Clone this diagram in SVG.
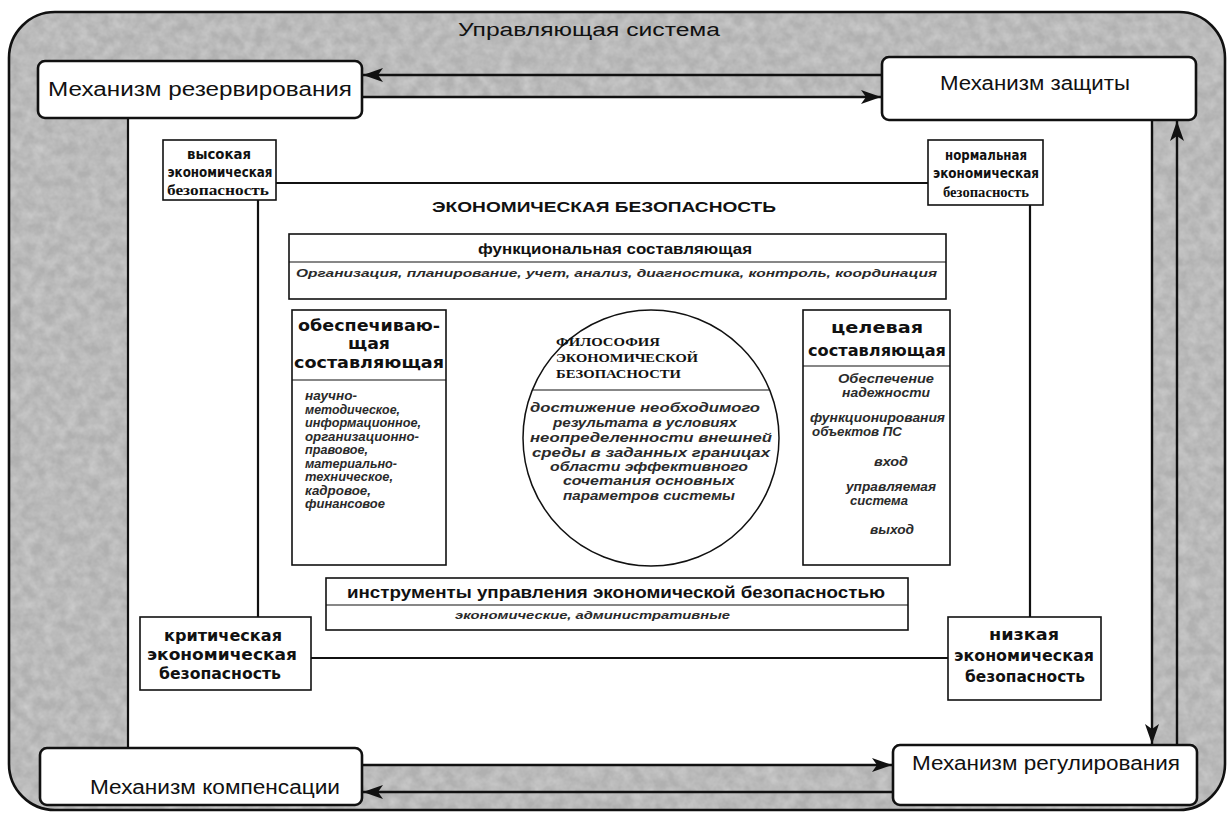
<svg xmlns="http://www.w3.org/2000/svg" width="1231" height="817" viewBox="0 0 1231 817">
<style>
.mech{fill:#fff;stroke:#111;stroke-width:2.6}
.box{fill:#fff;stroke:#111;stroke-width:1.6}
.ln{stroke:#111;stroke-width:2.2;fill:none}
.arr{stroke:#111;stroke-width:2.4;fill:none;marker-end:url(#ah)}
.div{stroke:#111;stroke-width:1.2}
text{font-family:"Liberation Sans",Arial,sans-serif;fill:#111}
.m{font-size:20px}
.b{font-weight:bold}
.v{font-family:"DejaVu Sans",Verdana,sans-serif;font-weight:bold}
.sf{font-family:"Liberation Serif","Times New Roman",serif;font-weight:bold}
.it{font-style:italic;font-weight:bold;fill:#2a2a2a}
</style>
<defs>
<marker id="ah" markerUnits="userSpaceOnUse" markerWidth="22" markerHeight="14" refX="20" refY="7" orient="auto">
<path d="M0,0 L20,7 L0,14 L5,7 z" fill="#111"/>
</marker>
<filter id="tex" x="0" y="0" width="100%" height="100%">
<feTurbulence type="fractalNoise" baseFrequency="0.09" numOctaves="3" seed="7"/>
<feColorMatrix type="matrix" values="0 0 0 0 1  0 0 0 0 1  0 0 0 0 1  0.5 0 0 0 -0.12"/>
<feComposite in2="SourceAlpha" operator="in"/>
</filter>
</defs>

<g id="background">
<rect x="9" y="12" width="1216" height="798" rx="46" ry="46" fill="#b0b0b0"/>
<rect x="9" y="12" width="1216" height="798" rx="46" ry="46" fill="#000" filter="url(#tex)"/>
<rect x="9" y="12" width="1216" height="798" rx="46" ry="46" fill="none" stroke="#111" stroke-width="2.6"/>
<rect x="128" y="97" width="1024" height="668" fill="#fff"/>
<text x="458" y="36" font-size="18" textLength="262" lengthAdjust="spacingAndGlyphs">Управляющая система</text>
</g>

<g id="connectors">
<line class="arr" x1="882" y1="75" x2="363" y2="75"/>
<line class="arr" x1="362" y1="97" x2="881" y2="97"/>
<line class="arr" x1="1152" y1="120" x2="1152" y2="744"/>
<line class="arr" x1="1177" y1="745" x2="1177" y2="121"/>
<line class="arr" x1="362" y1="765" x2="892" y2="765"/>
<line class="arr" x1="893" y1="792" x2="363" y2="792"/>
<line class="ln" x1="128" y1="118" x2="128" y2="748"/>
<line class="ln" x1="276" y1="183" x2="928" y2="183"/>
<line class="ln" x1="258" y1="200" x2="258" y2="617"/>
<line class="ln" x1="1030" y1="205" x2="1030" y2="617"/>
<line class="ln" x1="311" y1="658" x2="948" y2="658"/>
</g>

<g id="mech-reserve">
<rect class="mech" x="38" y="61" width="324" height="57" rx="7"/>
<text class="m" x="48" y="96" textLength="304" lengthAdjust="spacingAndGlyphs">Механизм резервирования</text>
</g>
<g id="mech-protect">
<rect class="mech" x="882" y="57" width="314" height="63" rx="7"/>
<text class="m" x="940" y="90" textLength="190" lengthAdjust="spacingAndGlyphs">Механизм защиты</text>
</g>
<g id="mech-compens">
<rect class="mech" x="40" y="748" width="322" height="57" rx="7"/>
<text class="m" x="90" y="794" textLength="250" lengthAdjust="spacingAndGlyphs">Механизм компенсации</text>
</g>
<g id="mech-regul">
<rect class="mech" x="893" y="745" width="304" height="60" rx="7"/>
<text class="m" x="912" y="770" textLength="268" lengthAdjust="spacingAndGlyphs">Механизм регулирования</text>
</g>

<g id="high" text-anchor="middle">
<rect class="box" x="163" y="140" width="113" height="60"/>
<text class="v" x="219" y="159" font-size="14" textLength="64" lengthAdjust="spacingAndGlyphs">высокая</text>
<text class="v" x="220" y="177" font-size="14" textLength="105" lengthAdjust="spacingAndGlyphs">экономическая</text>
<text class="sf" x="218" y="195" font-size="15" textLength="102" lengthAdjust="spacingAndGlyphs">безопасность</text>
</g>
<g id="normal" text-anchor="middle">
<rect class="box" x="928" y="140" width="115" height="65"/>
<text class="v" x="986" y="160" font-size="14" textLength="82" lengthAdjust="spacingAndGlyphs">нормальная</text>
<text class="v" x="986" y="178" font-size="14" textLength="106" lengthAdjust="spacingAndGlyphs">экономическая</text>
<text class="sf" x="986" y="197" font-size="15" textLength="86" lengthAdjust="spacingAndGlyphs">безопасность</text>
</g>
<g id="critical" text-anchor="middle">
<rect class="box" x="140" y="617" width="171" height="73"/>
<text class="v" x="223" y="641" font-size="16" textLength="118" lengthAdjust="spacingAndGlyphs">критическая</text>
<text class="v" x="222" y="660" font-size="16" textLength="150" lengthAdjust="spacingAndGlyphs">экономическая</text>
<text class="v" x="220" y="679" font-size="16" textLength="122" lengthAdjust="spacingAndGlyphs">безопасность</text>
</g>
<g id="low" text-anchor="middle">
<rect class="box" x="948" y="617" width="153" height="83"/>
<text class="v" x="1024" y="640" font-size="16" textLength="70" lengthAdjust="spacingAndGlyphs">низкая</text>
<text class="v" x="1024" y="661" font-size="16" textLength="140" lengthAdjust="spacingAndGlyphs">экономическая</text>
<text class="v" x="1025" y="682" font-size="16" textLength="120" lengthAdjust="spacingAndGlyphs">безопасность</text>
</g>

<g id="eb-title">
<text class="b" x="432" y="212" font-size="15" textLength="344" lengthAdjust="spacingAndGlyphs">ЭКОНОМИЧЕСКАЯ БЕЗОПАСНОСТЬ</text>
</g>

<g id="functional">
<rect class="box" x="289" y="234" width="657" height="65"/>
<line class="div" x1="289" y1="262" x2="946" y2="262"/>
<text class="b" x="478" y="254" font-size="15" textLength="274" lengthAdjust="spacingAndGlyphs">функциональная  составляющая</text>
<text class="it" x="296" y="277" font-size="11" textLength="641" lengthAdjust="spacingAndGlyphs">Организация, планирование, учет, анализ, диагностика, контроль, координация</text>
</g>

<g id="supporting">
<rect class="box" x="292" y="310" width="154" height="255"/>
<line class="div" x1="292" y1="380" x2="446" y2="380"/>
<g text-anchor="middle">
<text class="v" x="369" y="331" font-size="16" textLength="142" lengthAdjust="spacingAndGlyphs">обеспечиваю-</text>
<text class="v" x="369" y="349" font-size="16" textLength="42" lengthAdjust="spacingAndGlyphs">щая</text>
<text class="v" x="369" y="368" font-size="16" textLength="150" lengthAdjust="spacingAndGlyphs">составляющая</text>
</g>
<g font-size="12">
<text class="it" x="305" y="400" textLength="52" lengthAdjust="spacingAndGlyphs">научно-</text>
<text class="it" x="305" y="413.5" textLength="95" lengthAdjust="spacingAndGlyphs">методическое,</text>
<text class="it" x="305" y="427" textLength="116" lengthAdjust="spacingAndGlyphs">информационное,</text>
<text class="it" x="305" y="440.5" textLength="114" lengthAdjust="spacingAndGlyphs">организационно-</text>
<text class="it" x="305" y="454" textLength="63" lengthAdjust="spacingAndGlyphs">правовое,</text>
<text class="it" x="305" y="467.5" textLength="92" lengthAdjust="spacingAndGlyphs">материально-</text>
<text class="it" x="305" y="481" textLength="88" lengthAdjust="spacingAndGlyphs">техническое,</text>
<text class="it" x="305" y="494.5" textLength="66" lengthAdjust="spacingAndGlyphs">кадровое,</text>
<text class="it" x="305" y="508" textLength="80" lengthAdjust="spacingAndGlyphs">финансовое</text>
</g>
</g>

<g id="philosophy">
<circle cx="651" cy="438" r="128" fill="#fff" stroke="#111" stroke-width="1.5"/>
<line class="div" x1="533" y1="390" x2="769" y2="390"/>
<text class="sf" x="556" y="346" font-size="13" textLength="104" lengthAdjust="spacingAndGlyphs">ФИЛОСОФИЯ</text>
<text class="sf" x="556" y="362" font-size="13" textLength="142" lengthAdjust="spacingAndGlyphs">ЭКОНОМИЧЕСКОЙ</text>
<text class="sf" x="556" y="378" font-size="13" textLength="125" lengthAdjust="spacingAndGlyphs">БЕЗОПАСНОСТИ</text>
<g font-size="12" text-anchor="middle">
<text class="it" x="645" y="412" textLength="230" lengthAdjust="spacingAndGlyphs">достижение необходимого</text>
<text class="it" x="645" y="427" textLength="184" lengthAdjust="spacingAndGlyphs">результата в условиях</text>
<text class="it" x="651" y="442" textLength="242" lengthAdjust="spacingAndGlyphs">неопределенности внешней</text>
<text class="it" x="651" y="457" textLength="238" lengthAdjust="spacingAndGlyphs">среды в заданных границах</text>
<text class="it" x="649" y="471" textLength="198" lengthAdjust="spacingAndGlyphs">области эффективного</text>
<text class="it" x="649" y="485" textLength="172" lengthAdjust="spacingAndGlyphs">сочетания основных</text>
<text class="it" x="649" y="500" textLength="172" lengthAdjust="spacingAndGlyphs">параметров системы</text>
</g>
</g>

<g id="target">
<rect class="box" x="803" y="310" width="147" height="255"/>
<line class="div" x1="803" y1="366" x2="950" y2="366"/>
<g text-anchor="middle">
<text class="v" x="877" y="333" font-size="16" textLength="92" lengthAdjust="spacingAndGlyphs">целевая</text>
<text class="v" x="877" y="356" font-size="16" textLength="138" lengthAdjust="spacingAndGlyphs">составляющая</text>
</g>
<g font-size="12">
<text class="it" x="838" y="383" textLength="96" lengthAdjust="spacingAndGlyphs">Обеспечение</text>
<text class="it" x="842" y="397" textLength="88" lengthAdjust="spacingAndGlyphs">надежности</text>
<text class="it" x="810" y="422" textLength="135" lengthAdjust="spacingAndGlyphs">функционирования</text>
<text class="it" x="812" y="436" textLength="90" lengthAdjust="spacingAndGlyphs">объектов ПС</text>
<text class="it" x="874" y="466" textLength="34" lengthAdjust="spacingAndGlyphs">вход</text>
<text class="it" x="846" y="491" textLength="90" lengthAdjust="spacingAndGlyphs">управляемая</text>
<text class="it" x="850" y="505" textLength="58" lengthAdjust="spacingAndGlyphs">система</text>
<text class="it" x="870" y="534" textLength="44" lengthAdjust="spacingAndGlyphs">выход</text>
</g>
</g>

<g id="instruments">
<rect class="box" x="326" y="578" width="582" height="52"/>
<line class="div" x1="326" y1="605" x2="908" y2="605"/>
<text class="b" x="347" y="598" font-size="16" textLength="538" lengthAdjust="spacingAndGlyphs">инструменты управления экономической безопасностью</text>
<text class="it" x="455" y="619" font-size="11" textLength="275" lengthAdjust="spacingAndGlyphs">экономические, административные</text>
</g>
</svg>
